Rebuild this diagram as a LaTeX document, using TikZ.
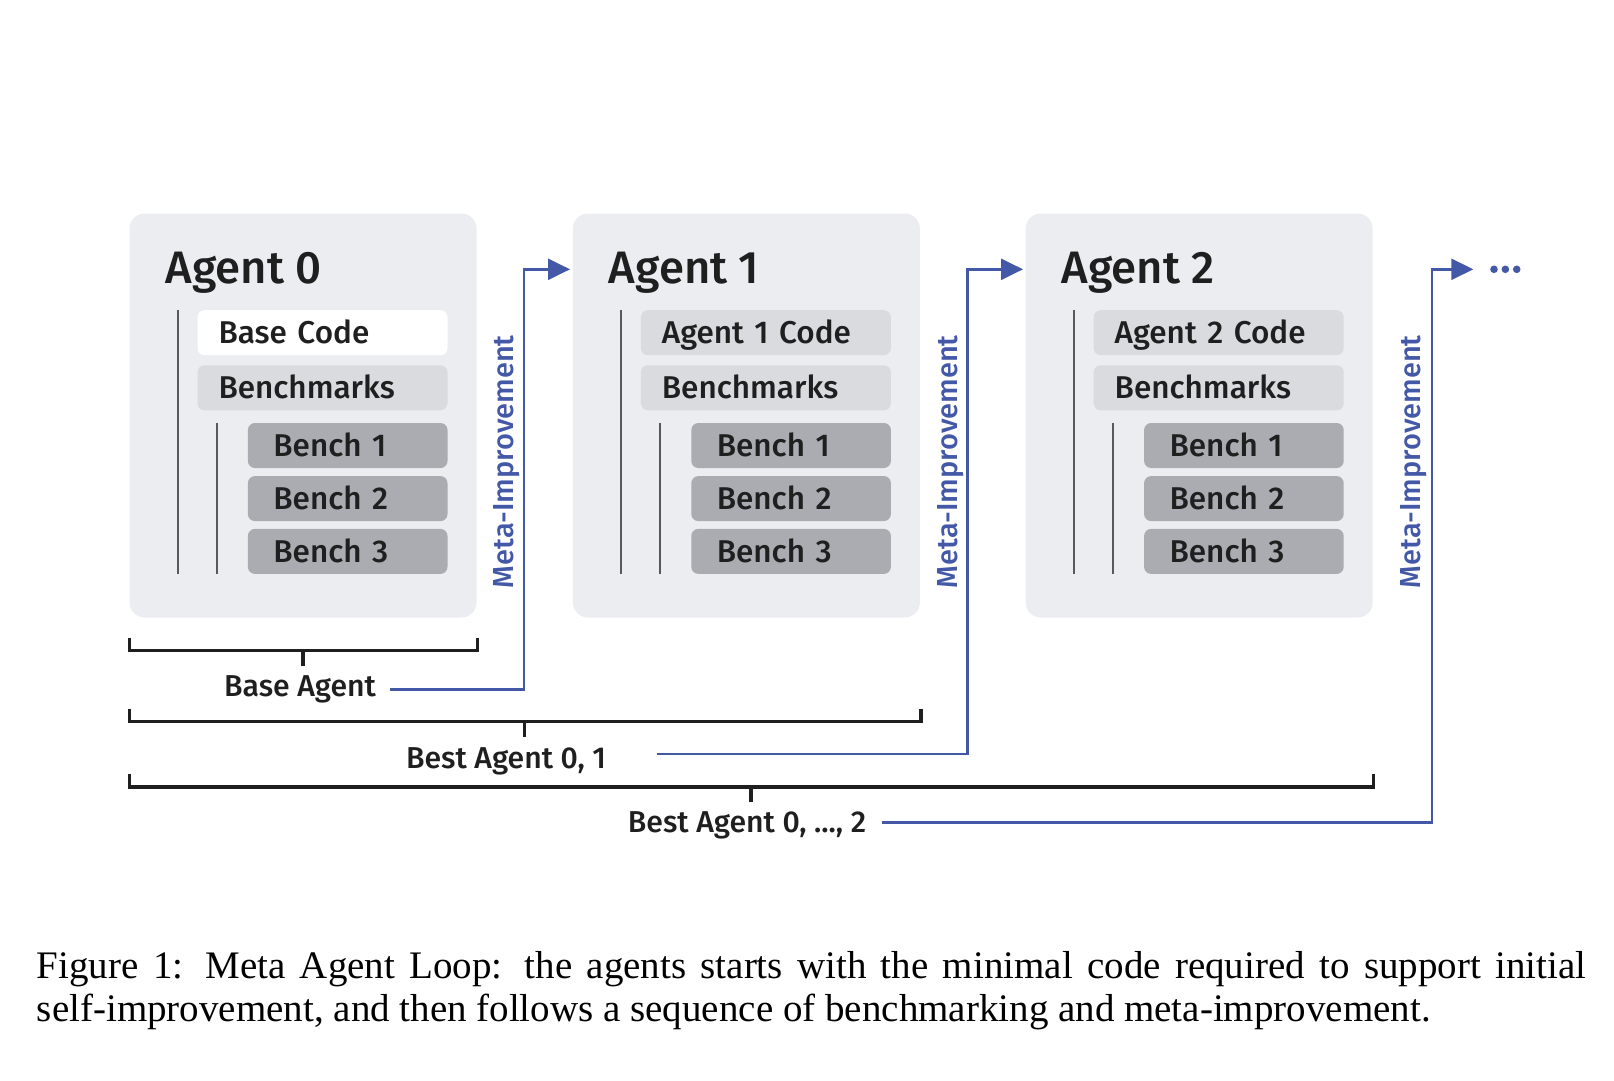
\documentclass[tikz,border=0pt]{standalone}
\usepackage{fontspec}
\usepackage{xcolor}
\usetikzlibrary{arrows.meta,positioning,calc}
\setmainfont{Liberation Serif}
\IfFontExistsTF{Fira Sans Medium}
  {\newfontfamily\diagfam{Fira Sans Medium}\newcommand\diagfont{\diagfam}}
  {\newfontfamily\diagfam{Lato}\newcommand\diagfont{\diagfam\bfseries}}
\definecolor{agentbg}{HTML}{ECEDF1}
\definecolor{codebg}{HTML}{DADBDF}
\definecolor{benchbg}{HTML}{AAACB2}
\definecolor{metablue}{HTML}{4358A7}
\definecolor{ink}{HTML}{1F1F1F}
\definecolor{treeline}{HTML}{58595E}

\begin{document}
\begin{tikzpicture}[x=1pt,y=-1pt,
		agentbox/.style={fill=agentbg,rounded corners=15pt,minimum width=347pt,minimum height=404pt,inner sep=0pt,anchor=north west},
		title/.style={font=\diagfont\fontsize{45.5}{52}\selectfont,text=ink,anchor=base west,inner sep=0pt},
		rowbox/.style={rounded corners=7pt,inner ysep=0pt,minimum height=45pt,text height=21.8pt,text depth=0pt,align=left,font=\diagfont\fontsize{31.5}{36}\selectfont,text=ink},
		codebox/.style={rowbox,inner xsep=21pt,text width=208pt},
		benchbox/.style={rowbox,fill=benchbg,inner xsep=25.5pt,text width=148.6pt},
		tree/.style={draw=treeline,line width=2pt},
		meta/.style={font=\diagfont\fontsize{29}{34}\selectfont,text=metablue,rotate=90,text height=20pt,text depth=0pt,inner sep=0pt},
		metaline/.style={draw=metablue,line width=2.6pt,-{Triangle[length=22pt,width=21pt]}},
		brace/.style={draw=ink,line width=3.3pt},
		agentlabel/.style={font=\diagfont\fontsize{30.2}{35}\selectfont,text=ink,anchor=base,inner sep=0pt}
	]
	\useasboundingbox (0,0) rectangle (1614,1080);
	
	\foreach \i/\x/\code/\codefill/\mx in {0/129.3/Base Code/white/27.1,1/572.7/Agent 1 Code/codebg/28,2/1025.5/Agent 2 Code/codebg/38.3}{
		\node[agentbox] (agent\i) at (\x,213.3) {};
		\node[title] (title\i) at (\x+36,283.3) {Agent \i};
		\node[codebox,fill=\codefill,anchor=north west] (code\i) at (\x+68,310) {\code};
		\node[codebox,fill=codebg,below=9.7pt of code\i] (bm\i) {Benchmarks};
		\node[benchbox,anchor=north east] (bench\i-1) at ([yshift=-12.3pt]bm\i.south east) {Bench 1};
		\node[benchbox,below=7.7pt of bench\i-1] (bench\i-2) {Bench 2};
		\node[benchbox,below=7.4pt of bench\i-2] (bench\i-3) {Bench 3};
		\draw[tree] ($(code\i.north west)+(-19.6,0)$) -- ($(code\i.north west |- bench\i-3.south)+(-19.6,0)$);
		\draw[tree] ($(bench\i-1.north west)+(-31,0)$) -- ($(bench\i-1.north west |- bench\i-3.south)+(-31,0)$);
		\node[meta] (meta\i) at (\x+347+\mx,461.7) {Meta-Improvement};
	}
	
	\foreach \j/\top in {0/20,1/91,2/156.7}{
		\draw[brace] ($(agent0.south west)+(0,\top)$) |- ($(agent\j.south east)+(0.8,\top+12.5)$) -- ($(agent\j.south east)+(0.8,\top)$);
		\draw[brace] ($(agent0.south west)!0.5!(agent\j.south east)+(0,\top+12.5)$) -- ++(0,15.5);
	}
	
	\node[agentlabel] (best0) at (300,696.7) {Base Agent};
	\node[agentlabel] (best1) at (506,768.3) {Best Agent 0, 1};
	\node[agentlabel] (best2) at (747,832.7) {Best Agent 0, ..., 2};
	
	\coordinate (src0) at (390,689.3);
	\coordinate (src1) at (656.7,754);
	\coordinate (src2) at (881.7,822.7);
	\coordinate (more) at (1473.3,269.3);
	
	\draw[metaline] (src0) -| ($(agent0.north east)+(47.3,56)$) -- ($(agent1.north west)+(-2.7,56)$);
	\draw[metaline] (src1) -| ($(agent1.north east)+(47.3,56)$) -- ($(agent2.north west)+(-2.5,56)$);
	\draw[metaline] (src2) -| ($(agent2.north east)+(59.2,56)$) -- (more);
	\foreach \d in {0,1,2}
		\fill[metablue] ($(more)+(20.7+\d*11.35,0)$) circle [radius=3.8];
	
	\node[anchor=base west,inner sep=0pt,text width=1549.3pt,align=justify,font=\rmfamily\fontsize{39}{43.3}\selectfont] (caption) at (36.7,978.3) {Figure 1: Meta Agent Loop: the agents starts with the minimal code required to support initial\linebreak self-improvement, and then follows a sequence of benchmarking and meta-improvement.};
\end{tikzpicture}
\end{document}
